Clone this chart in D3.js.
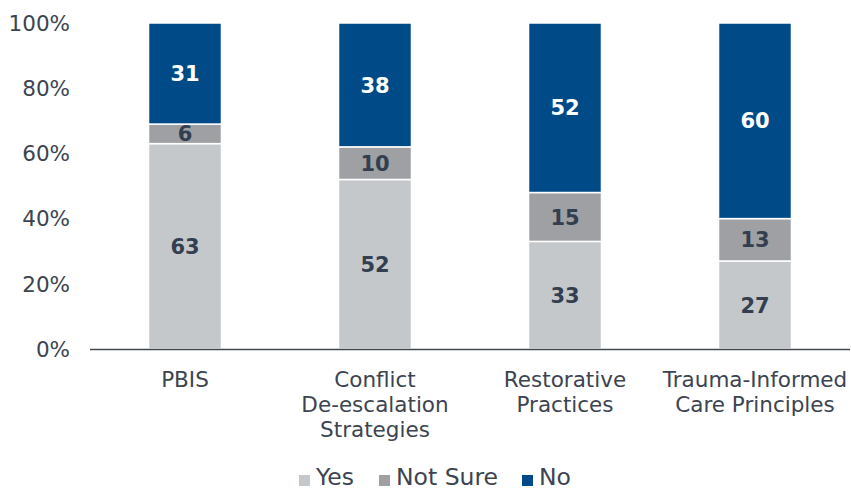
<!DOCTYPE html>
<html><head><meta charset="utf-8">
<script src="https://cdn.jsdelivr.net/npm/d3@7"></script>
<style>
html,body{margin:0;padding:0;background:#fff;}
text{font-family:"DejaVu Sans",Verdana,sans-serif;}
</style></head>
<body>
<svg id="c" width="851" height="491"></svg>
<script>
const categories = [["PBIS"],["Conflict","De-escalation","Strategies"],["Restorative","Practices"],["Trauma-Informed","Care Principles"]];
const catKeys = ["PBIS","Conflict De-escalation Strategies","Restorative Practices","Trauma-Informed Care Principles"];
const seriesNames = ["Yes","Not Sure","No"];
const yesValues = [63,52,33,27];
const notSureValues = [6,10,15,13];
const noValues = [31,38,52,60];
const yTicks = [0,20,40,60,80,100];
const colors = ["#c5c8cb","#9ea0a3","#004b87"];
const labelColors = ["#333f50","#333f50","#ffffff"];

const svg = d3.select("#c");
const x = d3.scaleBand().domain(catKeys).range([90,850]).paddingInner(0.616).paddingOuter(0.308);
const y = d3.scaleLinear().domain([0,100]).range([349,23]);

const rows = catKeys.map((k,i)=>({key:k, Yes:yesValues[i], "Not Sure":notSureValues[i], No:noValues[i]}));
const stack = d3.stack().keys(seriesNames)(rows);

// y ticks
svg.append("g").selectAll("text").data(yTicks).join("text")
  .attr("x",70).attr("y",d=>y(d)).attr("dy","0.36em").attr("text-anchor","end")
  .attr("font-size",21.5).attr("fill","#3b4450").text(d=>d+"%");

stack.forEach((s,si)=>{
  const g = svg.append("g");
  g.selectAll("rect").data(s).join("rect")
    .attr("x",d=>x(d.data.key)).attr("width",x.bandwidth())
    .attr("y",d=>y(d[1])).attr("height",d=>y(d[0])-y(d[1]))
    .attr("fill",colors[si]).attr("stroke","#fff").attr("stroke-width",1.5);
  g.selectAll("text").data(s).join("text")
    .attr("x",d=>x(d.data.key)+x.bandwidth()/2)
    .attr("y",d=>(y(d[0])+y(d[1]))/2).attr("dy","0.36em")
    .attr("text-anchor","middle").attr("font-size",21).attr("font-weight","bold")
    .attr("fill",labelColors[si]).text(d=>d[1]-d[0]);
});

// x axis line
svg.append("line").attr("x1",90).attr("x2",850).attr("y1",349.5).attr("y2",349.5)
  .attr("stroke","#404952").attr("stroke-width",1.5);

// category labels
const cl = svg.append("g");
catKeys.forEach((k,i)=>{
  const t = cl.append("text").attr("x",x(k)+x.bandwidth()/2).attr("y",387)
    .attr("text-anchor","middle").attr("font-size",21.5).attr("fill","#3b4450");
  categories[i].forEach((line,j)=>{
    t.append("tspan").attr("x",x(k)+x.bandwidth()/2).attr("dy",j===0?0:25).text(line);
  });
});

// legend
const legendX = [299,379,522];
const lg = svg.append("g");
seriesNames.forEach((n,i)=>{
  lg.append("rect").attr("x",legendX[i]).attr("y",475).attr("width",11).attr("height",11).attr("fill",colors[i]);
  lg.append("text").attr("x",legendX[i]+17).attr("y",485)
    .attr("font-size",23.5).attr("fill","#3b4450").text(n);
});
</script>
</body></html>
